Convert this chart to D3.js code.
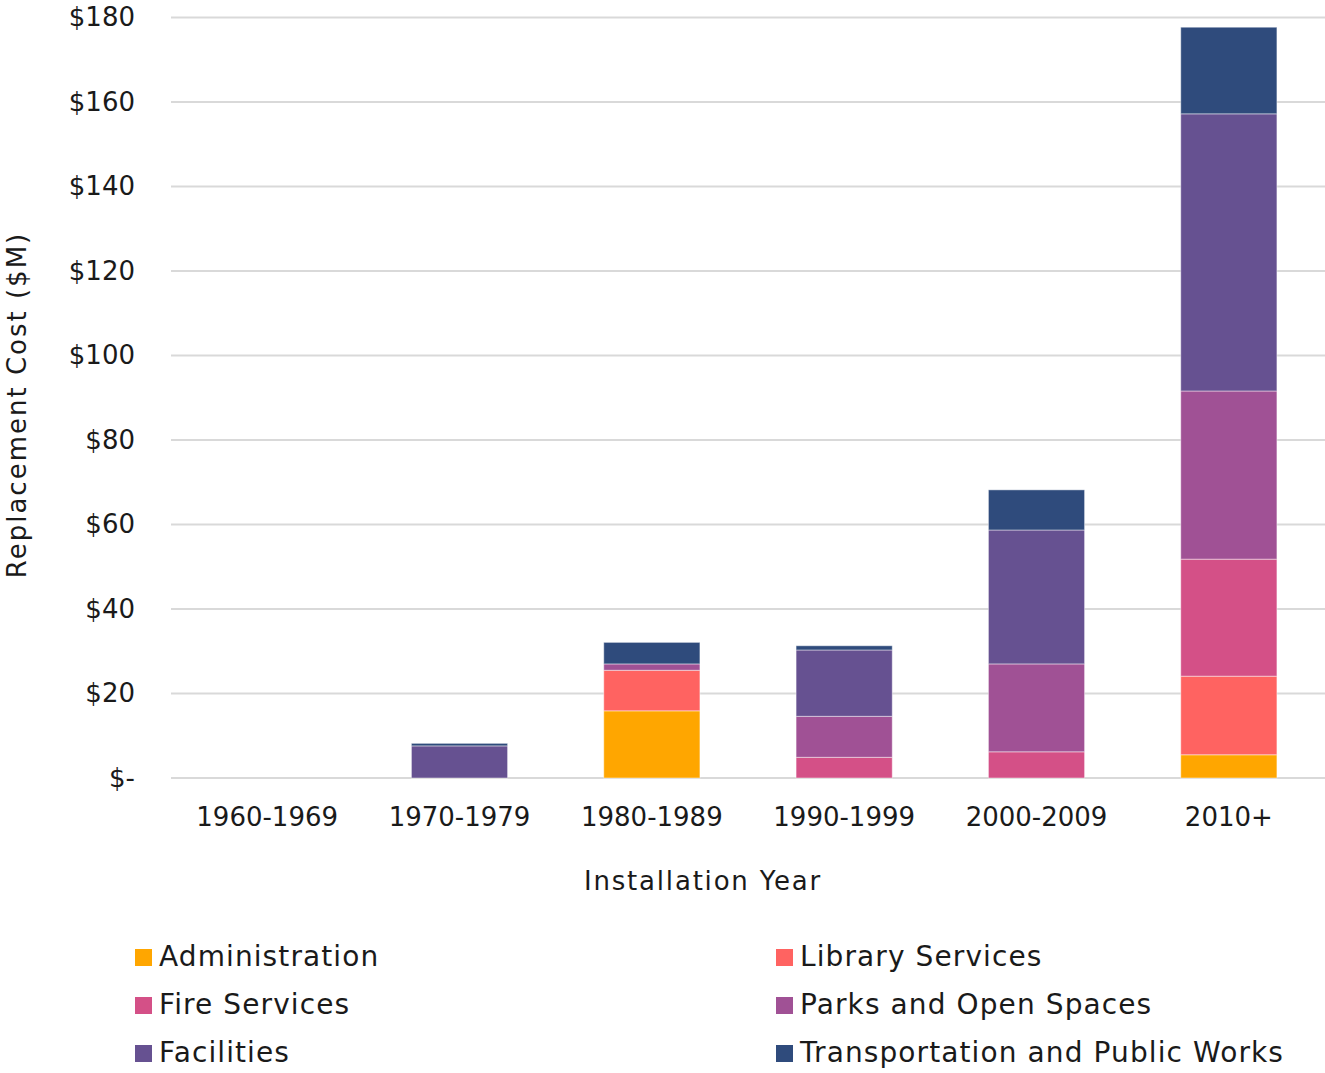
<!DOCTYPE html>
<html>
<head>
<meta charset="utf-8">
<script src="https://cdn.jsdelivr.net/npm/d3@7"></script>
<style>
  body { margin: 0; background: #fff; }
  svg { display: block; }
  text { font-family: "DejaVu Sans", sans-serif; fill: #1a1a1a; }
</style>
</head>
<body>
<svg id="chart" width="1325" height="1073"></svg>
<script>
const categories = ["1960-1969", "1970-1979", "1980-1989", "1990-1999", "2000-2009", "2010+"];
const seriesNames = ["Administration", "Library Services", "Fire Services", "Parks and Open Spaces", "Facilities", "Transportation and Public Works"];
const administration = [0, 0, 15.9, 0, 0, 5.5];
const library = [0, 0, 9.6, 0, 0, 18.6];
const fire = [0, 0, 0, 4.9, 6.2, 27.7];
const parks = [0, 0, 1.5, 9.7, 20.8, 39.8];
const facilities = [0, 7.6, 0, 15.7, 31.7, 65.6];
const transport = [0, 0.6, 5.1, 1.0, 9.5, 20.5];
const colors = ["#FFA600", "#FF6361", "#D45087", "#A05195", "#665191", "#2F4B7C"];
const yTicks = [0, 20, 40, 60, 80, 100, 120, 140, 160, 180];

const seriesValues = [administration, library, fire, parks, facilities, transport];
const rows = categories.map((c, i) => {
  const r = { cat: c };
  seriesNames.forEach((s, j) => r[s] = seriesValues[j][i]);
  return r;
});

const svg = d3.select("#chart");
const x = d3.scaleBand().domain(categories).range([171, 1325]).paddingInner(0.5).paddingOuter(0.25);
const y = d3.scaleLinear().domain([0, 180]).range([778, 17.5]);

// gridlines
svg.append("g").selectAll("line").data(yTicks).join("line")
  .attr("x1", 171).attr("x2", 1325)
  .attr("y1", d => y(d)).attr("y2", d => y(d))
  .attr("stroke", "#d9d9d9").attr("stroke-width", 2);

// y axis labels
const yAxis = d3.axisLeft(y).tickValues(yTicks).tickSize(0).tickPadding(0)
  .tickFormat(d => d === 0 ? "$-" : "$" + d);
const yg = svg.append("g").attr("transform", "translate(135,0)").call(yAxis);
yg.select(".domain").remove();
yg.selectAll("text").attr("font-size", 26).attr("font-family", "DejaVu Sans").attr("fill", "#1a1a1a");

// x axis labels
const xAxis = d3.axisBottom(x).tickSize(0).tickPadding(0);
const xg = svg.append("g").attr("transform", "translate(0,808)").call(xAxis);
xg.select(".domain").remove();
xg.selectAll("text").attr("font-size", 26).attr("font-family", "DejaVu Sans").attr("fill", "#1a1a1a").attr("dy", "0.71em");

// stacked bars
const stack = d3.stack().keys(seriesNames)(rows);
svg.append("g").selectAll("g").data(stack).join("g")
  .attr("fill", (d, i) => colors[i])
  .selectAll("rect").data(d => d.filter(p => p[1] - p[0] > 0)).join("rect")
  .attr("x", d => x(d.data.cat))
  .attr("width", x.bandwidth())
  .attr("y", d => y(d[1]))
  .attr("height", d => y(d[0]) - y(d[1]))
  .attr("stroke", "rgba(255,255,255,0.45)")
  .attr("stroke-width", 1);

// axis titles
svg.append("text").attr("x", 703).attr("y", 882).attr("text-anchor", "middle")
  .attr("dominant-baseline", "middle").attr("font-size", 26).attr("letter-spacing", 1.8)
  .text("Installation Year");
svg.append("text").attr("transform", "translate(18,405) rotate(-90)").attr("text-anchor", "middle")
  .attr("dominant-baseline", "middle").attr("font-size", 26).attr("letter-spacing", 2)
  .text("Replacement Cost ($M)");

// legend
const legendPos = [[135, 957], [776, 957], [135, 1005], [776, 1005], [135, 1053], [776, 1053]];
const lg = svg.append("g").selectAll("g").data(seriesNames).join("g")
  .attr("transform", (d, i) => `translate(${legendPos[i][0]},${legendPos[i][1]})`);
lg.append("rect").attr("x", 0).attr("y", -8).attr("width", 17).attr("height", 17)
  .attr("fill", (d, i) => colors[i]);
lg.append("text").attr("x", 24).attr("y", 1).attr("dominant-baseline", "middle")
  .attr("font-size", 28).attr("letter-spacing", 1.1).text(d => d);
</script>
</body>
</html>
